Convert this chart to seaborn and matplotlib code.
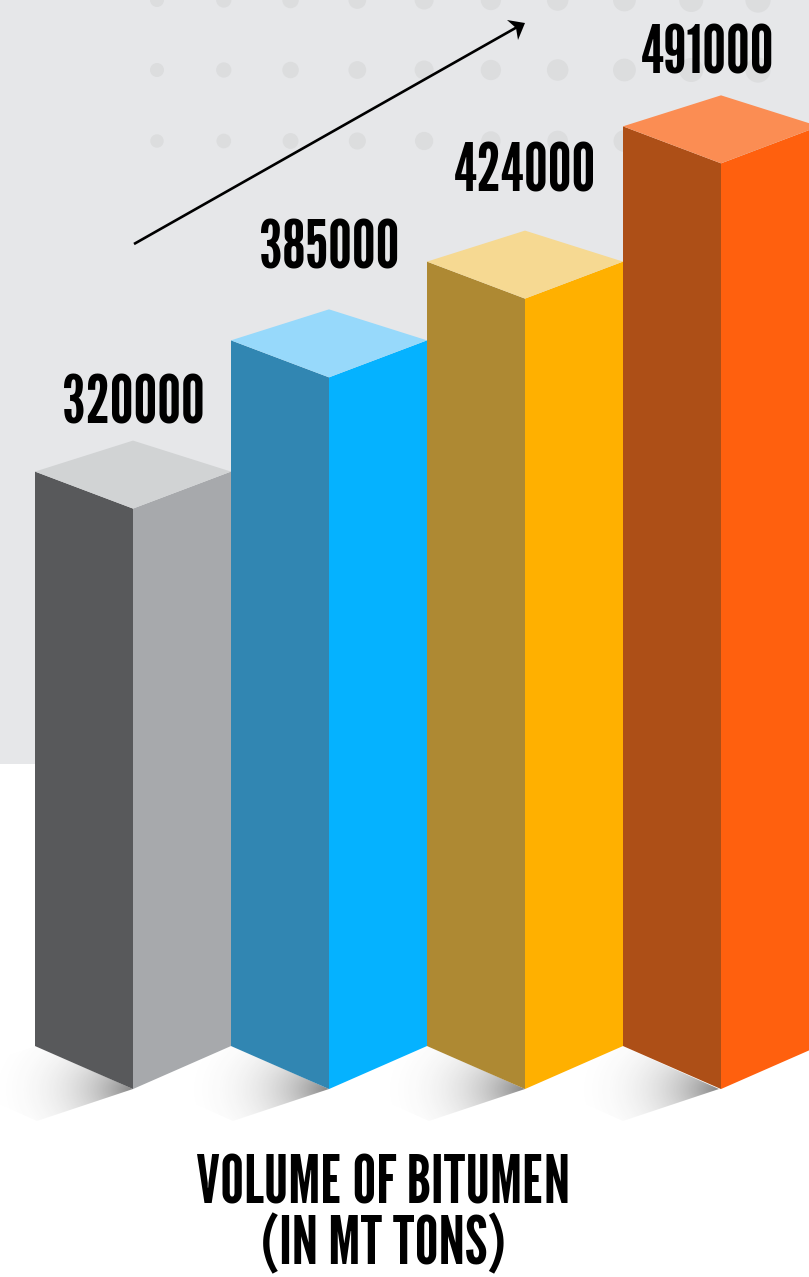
import matplotlib
matplotlib.use("Agg")
import matplotlib.pyplot as plt
from matplotlib.patches import Polygon, Rectangle
import numpy as np
import pandas as pd
import seaborn as sns

# Volumes per bar, with the colour of each visible face
volumes = [320000, 385000, 424000, 491000]
bar_names = ["A", "B", "C", "D"]
left_colors = ["#58595b", "#3186b2", "#ae8933", "#ad4f17"]
right_colors = ["#a7a9ac", "#05b2ff", "#ffb000", "#ff600e"]
top_colors = ["#d1d3d4", "#97d9fb", "#f6d992", "#fb8d53"]
title_lines = ["VOLUME OF BITUMEN", "(IN MT TONS)"]

W, H = 809, 1277
BACKDROP = "#e6e7e9"
DOT = "#dcddde"
LABEL_FONT = ["League Gothic", "DejaVu Sans"]

# Scale of the value axis and isometric depth of the bars, in axis units
UNITS_PER_PX = 495.3
VALUE_TOP = 571900
FLOOR = 32500
SIDE_RISE = 37 * UNITS_PER_PX
BACK_RISE = 68 * UNITS_PER_PX
FOOT_RISE = 43 * UNITS_PER_PX

sns.set_theme(style="white")
plt.rcParams["font.family"] = LABEL_FONT

fig = plt.figure(figsize=(W / 100, H / 100), dpi=100, facecolor="white")

# Backdrop layer: panel, dot pattern, floor shadows and the trend arrow
bg = fig.add_axes([0, 0, 1, 1], zorder=0)
bg.set_xlim(0, W)
bg.set_ylim(H, 0)
bg.axis("off")
bg.add_patch(Rectangle((0, 0), W, 764, color=BACKDROP, lw=0))

for row_y, grow in zip([0, 70, 141], [1.0, 1.0, 0.96]):
    for i, col_x in enumerate(np.linspace(157, 758, 10)):
        d = (14 + i * 1.25) * grow
        bg.add_patch(plt.Circle((col_x, row_y), d / 2, color=DOT, lw=0))

yy, xx = np.mgrid[1030:1140, -80:760]
for tip_x in [133, 329, 525, 719]:
    dist = np.hypot((tip_x - xx) * 0.75, (1089 - yy) * 1.2)
    alpha = np.clip(1 - dist / 125, 0, 1) ** 3.0 * 0.6
    rgba = np.zeros(xx.shape + (4,))
    rgba[..., :3] = 0.2
    rgba[..., 3] = alpha
    img = bg.imshow(rgba, extent=(-80, 760, 1140, 1030), origin="upper",
                    aspect="auto", interpolation="bilinear", zorder=1)
    clip = Polygon([(tip_x, 1089), (tip_x - 97, 1046), (tip_x - 193, 1078), (tip_x - 96, 1121)],
                   transform=bg.transData)
    img.set_clip_path(clip)
bg.set_xlim(0, W)
bg.set_ylim(H, 0)

bg.plot([134, 519], [244, 26], color="black", lw=1.9, solid_capstyle="butt", zorder=2)
bg.add_patch(Polygon([(525, 23), (507, 20), (516, 28), (518, 40)], color="black", lw=0, zorder=3))

# Bars: seaborn lays out one pair of dodged faces per category
df = pd.DataFrame({
    "bar": bar_names * 2,
    "face": ["left"] * 4 + ["right"] * 4,
    "volume": volumes * 2,
})
ax = fig.add_axes([0, 0, 1, 1], zorder=1)
ax.patch.set_alpha(0)
sns.barplot(data=df, x="bar", y="volume", hue="face", hue_order=["left", "right"],
            width=1.0, gap=0, legend=False, ax=ax, saturation=1)
ax.set_xlim(-133 / 196, (W - 133) / 196)
ax.set_ylim(VALUE_TOP - H * UNITS_PER_PX, VALUE_TOP)
ax.axis("off")

# Shear each flat face into its isometric outline and cap it with a top facet
left_bars, right_bars = ax.containers[0], ax.containers[1]
for i in [3, 2, 1, 0]:
    lb, rb = left_bars[i], right_bars[i]
    x0, xc, x1 = lb.get_x(), rb.get_x(), rb.get_x() + rb.get_width()
    top = lb.get_height()
    z = 5 - i
    ax.add_patch(Polygon([(x0, top + SIDE_RISE), (xc, top), (xc, FLOOR), (x0, FLOOR + FOOT_RISE)],
                         color=left_colors[i], lw=0, zorder=z))
    ax.add_patch(Polygon([(xc, top), (x1, top + SIDE_RISE), (x1, FLOOR + FOOT_RISE), (xc, FLOOR)],
                         color=right_colors[i], lw=0, zorder=z))
    ax.add_patch(Polygon([(x0, top + SIDE_RISE), (xc, top + BACK_RISE), (x1, top + SIDE_RISE), (xc, top)],
                         color=top_colors[i], lw=0, zorder=z))
    lb.remove()
    rb.remove()

# Value labels sit above each bar; the tallest one shifts left to stay on the canvas
label_shift_x = [0, 0, 0, -13]
label_shift_y = [103, 127, 125, 108]
for i, v in enumerate(volumes):
    ax.annotate(str(v), xy=(i, v), xytext=(label_shift_x[i] * 0.72, label_shift_y[i] * 0.72),
                textcoords="offset points", ha="center", va="center",
                fontsize=48, color="black", zorder=10)

for line, y_px in zip(title_lines, [1186, 1246]):
    fig.text(383 / W, 1 - y_px / H, line, ha="center", va="center",
             fontsize=48, color="black", zorder=10)

fig.savefig("out.png", dpi=100)
